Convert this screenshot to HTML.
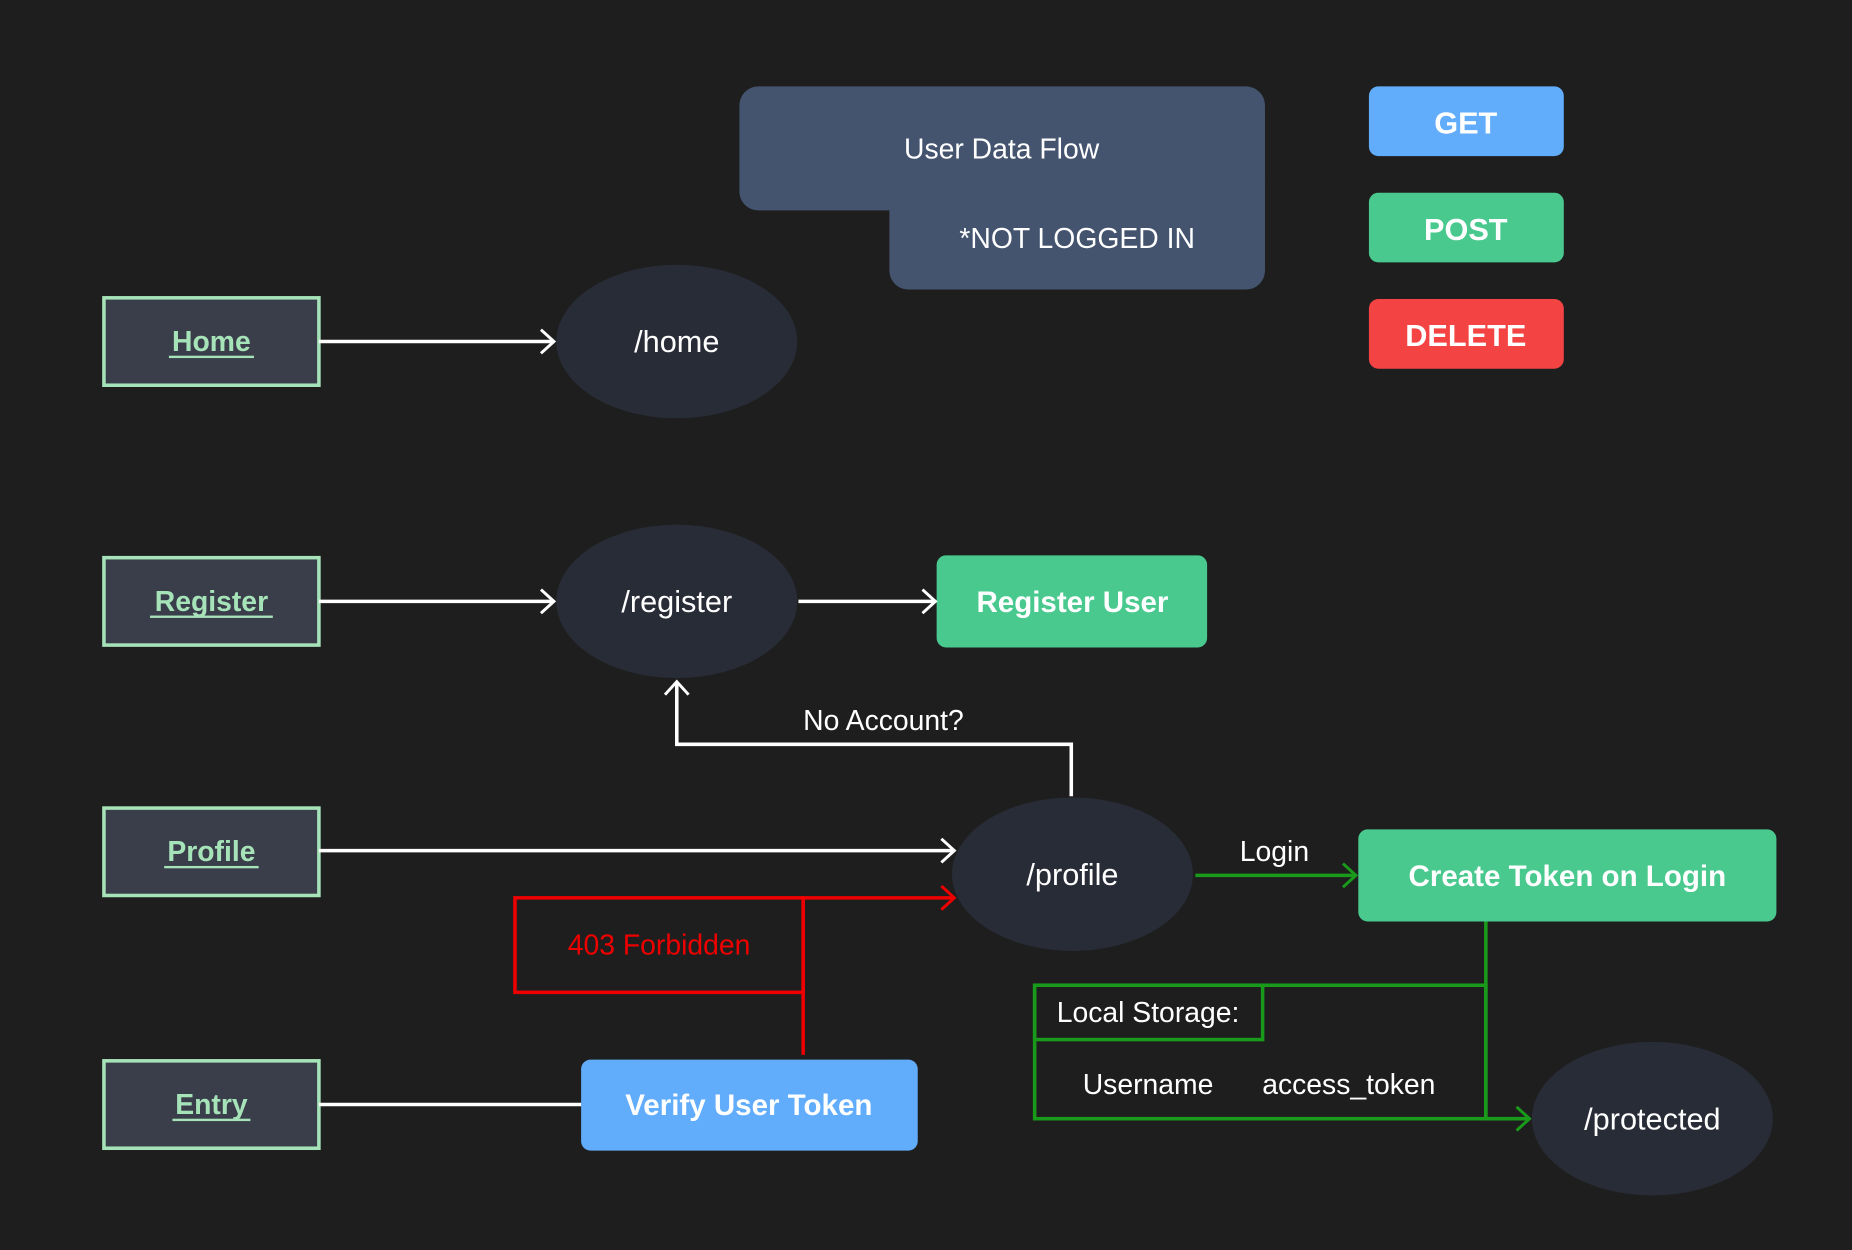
<!DOCTYPE html>
<html><head><meta charset="utf-8"><style>
html,body{margin:0;padding:0;background:#1e1e1e;}
svg{display:block;}
text{font-family:"Liberation Sans","DejaVu Sans",sans-serif;}
</style></head><body>
<svg width="1852" height="1250" viewBox="0 0 1568 1058" xmlns="http://www.w3.org/2000/svg">
<rect width="1568" height="1058" fill="#1e1e1e"/>
<defs>
<marker id="aw" markerWidth="16" markerHeight="24" refX="13" refY="12" orient="auto" markerUnits="userSpaceOnUse"><path d="M2,2 L13,12 L2,22" fill="none" stroke="#fff" stroke-width="2.5"/></marker>
<marker id="ar" markerWidth="16" markerHeight="24" refX="13" refY="12" orient="auto" markerUnits="userSpaceOnUse"><path d="M2,2 L13,12 L2,22" fill="none" stroke="#e00" stroke-width="2.5"/></marker>
<marker id="ag" markerWidth="16" markerHeight="24" refX="13" refY="12" orient="auto" markerUnits="userSpaceOnUse"><path d="M2,2 L13,12 L2,22" fill="none" stroke="#1a9a1a" stroke-width="2.5"/></marker>
</defs>
<rect x="626" y="73" width="445" height="105" rx="16" fill="#44546f"/>
<rect x="753" y="140" width="318" height="105" rx="16" fill="#44546f"/>
<text x="848" y="134" fill="#fff" font-size="24" text-anchor="middle">User Data Flow</text>
<text x="912" y="210" fill="#fff" font-size="24" text-anchor="middle">*NOT LOGGED IN</text>
<rect x="1159" y="73" width="165" height="59" rx="8" fill="#62adfb"/>
<text x="1241" y="113" fill="#fff" font-size="26" font-weight="bold" text-anchor="middle">GET</text>
<rect x="1159" y="163" width="165" height="59" rx="8" fill="#4ac98f"/>
<text x="1241" y="203" fill="#fff" font-size="26" font-weight="bold" text-anchor="middle">POST</text>
<rect x="1159" y="253" width="165" height="59" rx="8" fill="#f44343"/>
<text x="1241" y="293" fill="#fff" font-size="26" font-weight="bold" text-anchor="middle">DELETE</text>
<g fill="#3a3e4a" stroke="#a6e3b8" stroke-width="3">
<rect x="88" y="252" width="182" height="74"/>
<rect x="88" y="472" width="182" height="74"/>
<rect x="88" y="684" width="182" height="74"/>
<rect x="88" y="898" width="182" height="74"/>
</g>
<g fill="#a6e3b8" font-size="24" font-weight="bold" text-anchor="middle">
<text x="179" y="297">Home</text>
<text x="179" y="517">Register</text>
<text x="179" y="729">Profile</text>
<text x="179" y="943">Entry</text>
</g>
<g fill="#a6e3b8">
<rect x="143" y="301" width="72" height="2"/>
<rect x="127" y="521" width="104" height="2"/>
<rect x="139" y="733" width="80" height="2"/>
<rect x="146" y="947" width="66" height="2"/>
</g>
<g fill="#282c36">
<ellipse cx="573" cy="289" rx="102" ry="65"/>
<ellipse cx="573" cy="509" rx="102" ry="65"/>
<ellipse cx="908" cy="740" rx="102" ry="65"/>
<ellipse cx="1399" cy="947" rx="102" ry="65"/>
</g>
<g fill="#fff" font-size="26" text-anchor="middle">
<text x="573" y="298">/home</text>
<text x="573" y="518">/register</text>
<text x="908" y="749">/profile</text>
<text x="1399" y="956">/protected</text>
</g>
<rect x="793" y="470" width="229" height="78" rx="8" fill="#4ac98f"/>
<text x="908" y="518" fill="#fff" font-size="25" font-weight="bold" text-anchor="middle">Register User</text>
<rect x="1150" y="702" width="354" height="78" rx="8" fill="#4ac98f"/>
<text x="1327" y="750" fill="#fff" font-size="25" font-weight="bold" text-anchor="middle">Create Token on Login</text>
<rect x="492" y="897" width="285" height="77" rx="8" fill="#62adfb"/>
<text x="634" y="944" fill="#fff" font-size="25" font-weight="bold" text-anchor="middle">Verify User Token</text>
<g stroke="#fff" stroke-width="3" fill="none">
<line x1="270" y1="289" x2="469" y2="289" marker-end="url(#aw)"/>
<line x1="270" y1="509" x2="469" y2="509" marker-end="url(#aw)"/>
<line x1="676" y1="509" x2="792" y2="509" marker-end="url(#aw)"/>
<line x1="270" y1="720" x2="808" y2="720" marker-end="url(#aw)"/>
<polyline points="907,674 907,630 573,630 573,577" marker-end="url(#aw)"/>
<line x1="270" y1="935" x2="492" y2="935"/>
</g>
<text x="748" y="618" fill="#fff" font-size="24" text-anchor="middle">No Account?</text>
<g stroke="#e00" stroke-width="3" fill="none">
<rect x="436" y="760" width="244" height="80"/>
<polyline points="680,893 680,760 808,760" marker-end="url(#ar)"/>
</g>
<text x="558" y="808" fill="#e00" font-size="24" text-anchor="middle">403 Forbidden</text>
<g stroke="#1a9a1a" stroke-width="3" fill="none">
<line x1="1012" y1="741" x2="1148" y2="741" marker-end="url(#ag)"/>
<line x1="1258" y1="780" x2="1258" y2="947"/>
<rect x="876" y="834" width="382" height="113"/>
<rect x="876" y="834" width="193" height="46"/>
<line x1="1258" y1="947" x2="1295" y2="947" marker-end="url(#ag)"/>
</g>
<text x="1079" y="729" fill="#fff" font-size="24" text-anchor="middle">Login</text>
<text x="972" y="865" fill="#fff" font-size="24" text-anchor="middle">Local Storage:</text>
<text x="972" y="926" fill="#fff" font-size="24" text-anchor="middle">Username</text>
<text x="1142" y="926" fill="#fff" font-size="24" text-anchor="middle">access_token</text>
</svg>
</body></html>
